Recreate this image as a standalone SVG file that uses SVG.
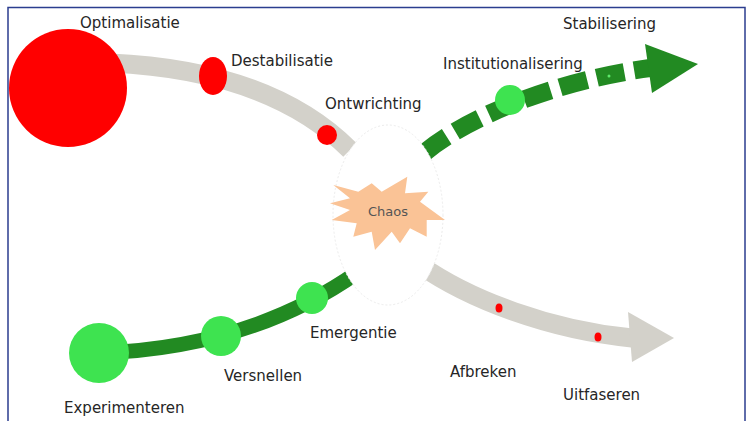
<svg xmlns="http://www.w3.org/2000/svg" width="750" height="421" viewBox="0 0 750 421">
<style>
.lbl{font-family:"DejaVu Sans","Verdana",sans-serif;font-size:15px;fill:#262626}
.red{fill:#ff0000}
.grn{fill:#3ee350}
.gray{fill:none;stroke:#d3d1ca;stroke-width:19}
.dg{fill:none;stroke:#228a22}
</style>
<rect x="0" y="0" width="750" height="421" fill="#ffffff"/>
<rect x="8" y="7.5" width="737" height="430" fill="none" stroke="#2b3d8f" stroke-width="1.5"/>
<g id="connectors">
<path class="gray" d="M110 63 Q270 70 350 150"/>
<path class="dg" stroke-width="15" d="M99 353 Q250 348 358 272"/>
<path class="dg" stroke-width="18" stroke-dasharray="28 10" d="M424 153 C470 115 560 80 650 68"/>
<polygon points="645,44 698,64 652,93" fill="#228a22"/>
<circle cx="609" cy="76" r="1.5" fill="#5ee86a"/>
<path class="gray" d="M420 265 C470 300 550 330 632 338"/>
<polygon points="628,312 674,338 632,362" fill="#d3d1ca"/>
</g>
<g id="chaos">
<ellipse cx="388" cy="215" rx="55" ry="90" fill="#ffffff" stroke="#ececec" stroke-width="1" stroke-dasharray="2 2"/>
<polygon fill="#fac396" points="333.3,185 358.3,191.7 371.7,183.3 381.7,191.7 407.3,176.7 405,193.3 428.3,191.7 420,201.7 445,220 426.7,220 426.7,236.7 410,228.3 400,243.3 391.7,231.7 375,250 371.7,231.7 353.3,236.7 356.7,223.3 331.7,220 350,210 330,203.3 350,198.3"/>
<text x="388" y="216" text-anchor="middle" font-family="DejaVu Sans, sans-serif" font-size="13" fill="#555555">Chaos</text>
</g>
<g id="optimalisatie">
<circle class="red" cx="68" cy="88" r="59"/>
<text class="lbl" x="80" y="28">Optimalisatie</text>
</g>
<g id="destabilisatie">
<ellipse class="red" cx="213" cy="76" rx="14" ry="19"/>
<text class="lbl" x="231" y="66">Destabilisatie</text>
</g>
<g id="ontwrichting">
<circle class="red" cx="327" cy="135" r="10"/>
<text class="lbl" x="325" y="109">Ontwrichting</text>
</g>
<g id="institutionalisering">
<circle class="grn" cx="510" cy="100" r="15"/>
<text class="lbl" x="443" y="69">Institutionalisering</text>
</g>
<g id="stabilisering">
<text class="lbl" x="563" y="29">Stabilisering</text>
</g>
<g id="experimenteren">
<circle class="grn" cx="99" cy="353" r="30"/>
<text class="lbl" x="64" y="413">Experimenteren</text>
</g>
<g id="versnellen">
<circle class="grn" cx="221" cy="336" r="20"/>
<text class="lbl" x="224" y="381">Versnellen</text>
</g>
<g id="emergentie">
<circle class="grn" cx="312" cy="298" r="16"/>
<text class="lbl" x="310" y="338">Emergentie</text>
</g>
<g id="afbreken">
<ellipse class="red" cx="499" cy="308" rx="3.5" ry="4.5"/>
<text class="lbl" x="450" y="377">Afbreken</text>
</g>
<g id="uitfaseren">
<ellipse class="red" cx="598" cy="337" rx="3.5" ry="4.5"/>
<text class="lbl" x="563" y="400">Uitfaseren</text>
</g>
</svg>
